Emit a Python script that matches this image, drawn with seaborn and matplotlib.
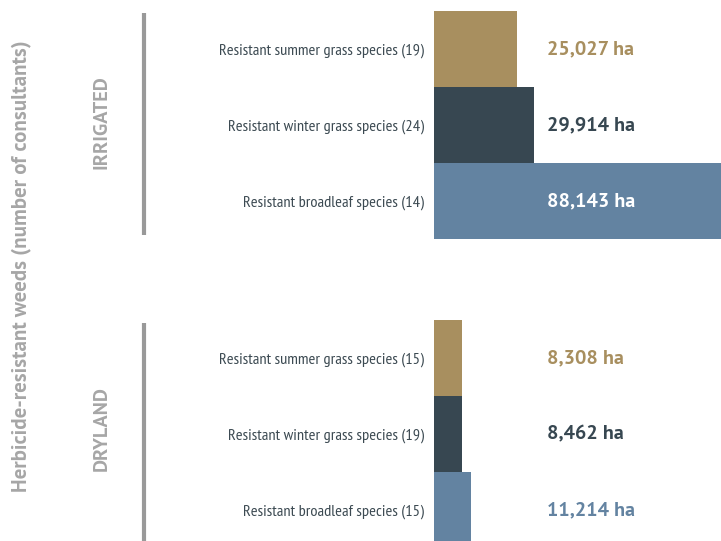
import pandas as pd
import matplotlib.pyplot as plt
import matplotlib.transforms as mtransforms
import seaborn as sns

sns.set_style("white")
plt.rcParams['font.family'] = ['PT Sans', 'DejaVu Sans']

# ===== DATA =====
irrigated_labels = ['Resistant summer grass species (19)',
                    'Resistant winter grass species (24)',
                    'Resistant broadleaf species (14)']
irrigated_area = [25027, 29914, 88143]

dryland_labels = ['Resistant summer grass species (15)',
                  'Resistant winter grass species (19)',
                  'Resistant broadleaf species (15)']
dryland_area = [8308, 8462, 11214]

bar_colors = ['#A88F5F', '#374751', '#6383A1']
label_colors_irr = ['#A88F5F', '#374751', '#FFFFFF']
label_colors_dry = ['#A88F5F', '#374751', '#6383A1']

GREY = '#A6A6A6'
W, H = 721, 541

fig = plt.figure(figsize=(W / 100, H / 100), dpi=100)

ax1 = fig.add_axes([434 / W, 1 - 239 / H, 287 / W, 228 / H])
ax2 = fig.add_axes([434 / W, 0, 287 / W, 221 / H])


def draw_group(ax, labels, area, txt_colors, ybottom):
    df = pd.DataFrame({'label': labels, 'area': area})
    sns.barplot(data=df, y='label', x='area', hue='label', palette=bar_colors,
                orient='h', width=1.0, saturation=1, legend=False, linewidth=0, ax=ax)
    ax.set_xlim(0, 86200)
    ax.set_ylim(ybottom, -0.5)
    ax.set_xlabel('')
    ax.set_ylabel('')
    ax.set_xticks([])
    ax.tick_params(axis='y', length=0, pad=7)
    for t in ax.get_yticklabels():
        t.set_fontfamily(['PT Sans Narrow', 'DejaVu Sans'])
        t.set_fontsize(11.8)
        t.set_color('#3c4a52')
    for s in ax.spines.values():
        s.set_visible(False)
    trans = mtransforms.blended_transform_factory(ax.transAxes, ax.transData)
    for i, v in enumerate(area):
        ax.text(0.394, i, f'{v:,} ha', transform=trans, ha='left', va='center',
                fontsize=14.5, fontweight='bold', color=txt_colors[i])


draw_group(ax1, irrigated_labels, irrigated_area, label_colors_irr, 2.5)
draw_group(ax2, dryland_labels, dryland_area, label_colors_dry, 1.5 + 69 / 76)

# group brackets and labels
fig.add_artist(plt.Line2D([144 / W, 144 / W], [1 - 13 / H, 1 - 235 / H],
                          color='#999999', lw=3, solid_capstyle='butt'))
fig.add_artist(plt.Line2D([144 / W, 144 / W], [1 - 323 / H, 0],
                          color='#999999', lw=3, solid_capstyle='butt'))
fig.text(102 / W, 1 - 122 / H, 'IRRIGATED', rotation=90, ha='center', va='center',
         fontsize=14.5, fontweight='bold', color=GREY)
fig.text(102 / W, 1 - 429 / H, 'DRYLAND', rotation=90, ha='center', va='center',
         fontsize=14.5, fontweight='bold', color=GREY)
fig.text(21 / W, 1 - 266 / H, 'Herbicide-resistant weeds (number of consultants)',
         rotation=90, ha='center', va='center', fontsize=15, fontweight='bold', color=GREY)

plt.savefig('out.png', dpi=100)
